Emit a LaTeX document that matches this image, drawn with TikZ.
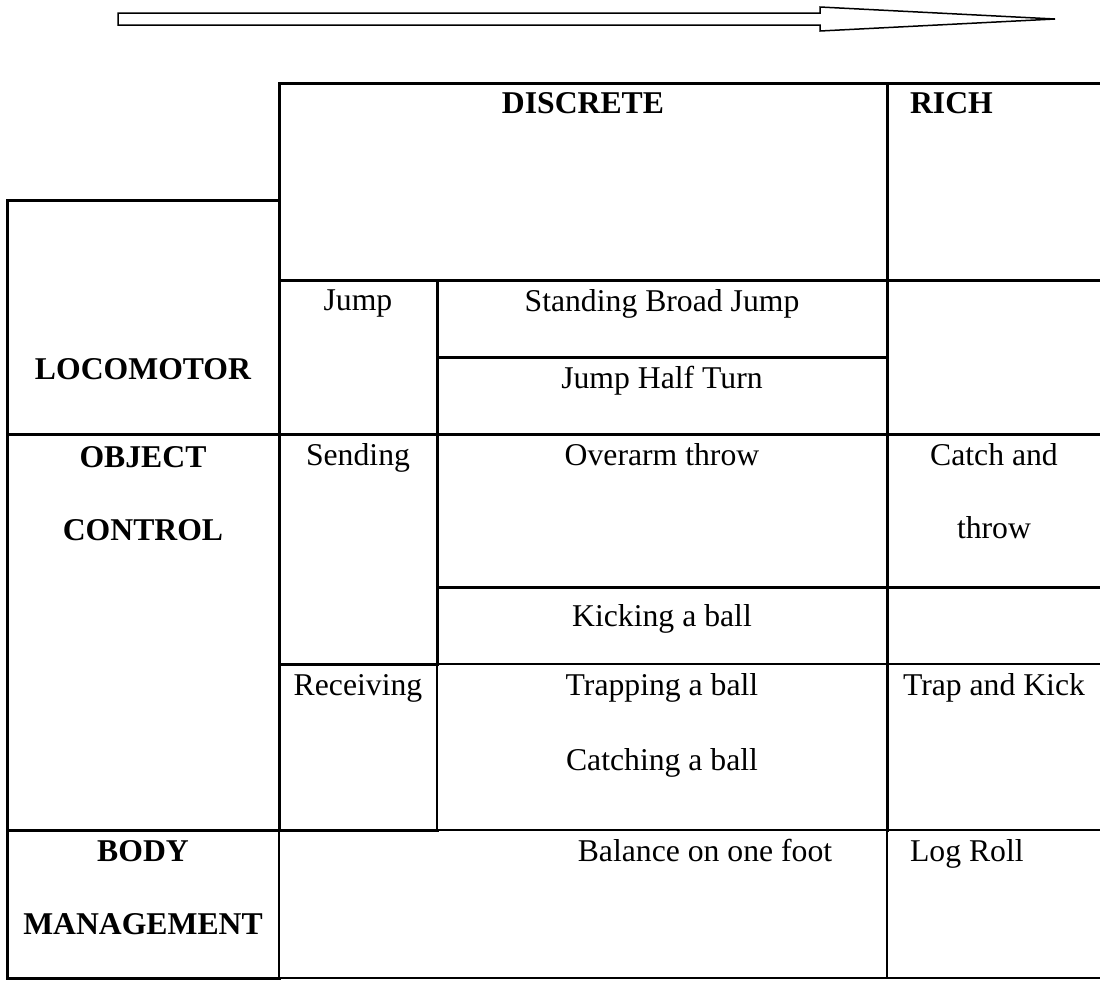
\documentclass[tikz,border=0pt]{standalone}
\usepackage{fontspec}
\setmainfont{Liberation Serif}
\usepackage{tikz}
\begin{document}
\begin{tikzpicture}[x=0.5pt,y=-0.5pt,font=\fontsize{15.85}{19}\selectfont,
  rule/.style={line width=1.5pt,line cap=rect},
  hair/.style={line width=0.75pt},
  head/.style={anchor=base,font=\fontsize{15.85}{19}\selectfont\bfseries},
  cell/.style={anchor=base}]
\useasboundingbox (0,0) rectangle (1100,981);
% block arrow on top
\draw[hair] (118,13) -- (820,13) -- (820,7) -- (1055,19) -- (820,31) -- (820,25) -- (118,25) -- cycle;
% heavy rules
\draw[rule] (1100,83) -- (279,83) -- (279,830);
\draw[rule] (7,978) -- (7,200) -- (279,200);
\draw[rule] (279,280) -- (1100,280);
\draw[rule] (437,280) -- (437,664);
\draw[rule] (437,357) -- (887,357);
\draw[rule] (7,434) -- (1100,434);
\draw[rule] (887,83) -- (887,830);
\draw[rule] (437,587) -- (1100,587);
\draw[rule] (279,664) -- (437,664);
\draw[rule] (7,830) -- (437,830);
\draw[rule] (7,978) -- (279,978);
% light rules
\draw[hair] (437,664) -- (1100,664);
\draw[hair] (437,664) -- (437,830);
\draw[hair] (437,830) -- (1100,830);
\draw[hair] (279,830) -- (279,978);
\draw[hair] (887,830) -- (887,978);
\draw[hair] (279,978) -- (1100,978);
% column heads
\node[head] (discrete) at (583,113) {DISCRETE};
\node[head,anchor=base west] (rich) at (903,113) {RICH};
% locomotor
\node[head] (loco) at (143,379) {LOCOMOTOR};
\node[cell] (jump) at (358,310) {Jump};
\node[cell] (broad) at (662,311) {Standing Broad Jump};
\node[cell] (half) at (662,388) {Jump Half Turn};
% object control
\node[head] (obj) at (143,467) {OBJECT};
\node[head] (ctrl) at (143,540) {CONTROL};
\node[cell] (send) at (358,465) {Sending};
\node[cell] (over) at (662,465) {Overarm throw};
\node[cell] (catchand) at (994,465) {Catch and};
\node[cell] (throw) at (994,538) {throw};
\node[cell] (kick) at (662,626) {Kicking a ball};
\node[cell] (recv) at (358,695) {Receiving};
\node[cell] (trap) at (662,695) {Trapping a ball};
\node[cell] (catching) at (662,770) {Catching a ball};
\node[cell] (trapkick) at (994,695) {Trap and Kick};
% body management
\node[head] (body) at (143,861) {BODY};
\node[head] (manage) at (143,934) {MANAGEMENT};
\node[cell] (balance) at (705,861) {Balance on one foot};
\node[cell,anchor=base west] (logroll) at (903,861) {Log Roll};
\end{tikzpicture}
\end{document}
